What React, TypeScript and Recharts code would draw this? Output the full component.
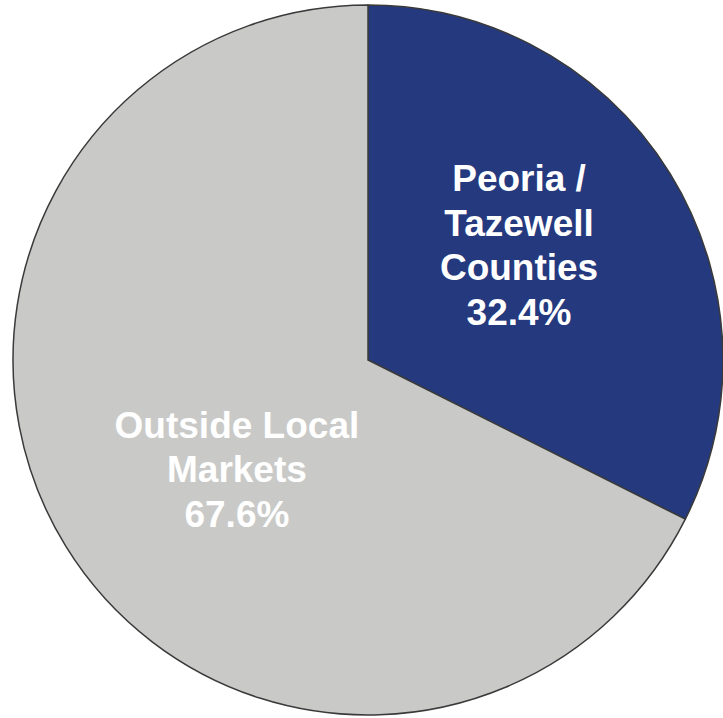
import { Cell, Pie, PieChart } from "recharts";

const segments = ["Peoria / Tazewell Counties", "Outside Local Markets"];
const shares = [32.4, 67.6];
const labelLines = [
  ["Peoria /", "Tazewell", "Counties"],
  ["Outside Local", "Markets"],
];
const colors = ["#25397f", "#c9cac8"];
// small hand nudges so labels sit where the original has them
const labelNudge = [
  { dx: -3, dy: -7 },
  { dx: 23, dy: 27 },
];

const data = segments.map((name, i) => ({ name, value: shares[i] }));

const RAD = Math.PI / 180;
const LINE_H = 44.5;

function renderLabel(props: any) {
  const { cx, cy, midAngle, outerRadius, index } = props;
  const r = outerRadius * 0.51;
  const x = cx + r * Math.cos(-midAngle * RAD) + labelNudge[index].dx;
  const y = cy + r * Math.sin(-midAngle * RAD) + labelNudge[index].dy;
  const lines = [...labelLines[index], `${shares[index].toFixed(1)}%`];
  const first = y - ((lines.length - 1) * LINE_H) / 2;
  return (
    <text
      x={x}
      y={first}
      fill="#ffffff"
      textAnchor="middle"
      fontFamily="'Liberation Sans', Arial, sans-serif"
      fontWeight="bold"
      fontSize={37}
    >
      {lines.map((t, i) => (
        <tspan key={i} x={x} y={first + i * LINE_H}>
          {t}
        </tspan>
      ))}
    </text>
  );
}

export default function App() {
  return (
    <div style={{ position: "absolute", left: 0, top: 0, width: 723, height: 718, background: "#fff" }}>
      <PieChart width={723} height={718} margin={{ top: 0, right: 0, bottom: 0, left: 0 }}>
        <Pie
          data={data}
          dataKey="value"
          nameKey="name"
          cx={368}
          cy={360}
          outerRadius={355}
          startAngle={90}
          endAngle={-270}
          stroke="#3a3a3a"
          strokeWidth={1.5}
          label={renderLabel}
          labelLine={false}
          isAnimationActive={false}
        >
          {data.map((d, i) => (
            <Cell key={d.name} fill={colors[i]} />
          ))}
        </Pie>
      </PieChart>
    </div>
  );
}
